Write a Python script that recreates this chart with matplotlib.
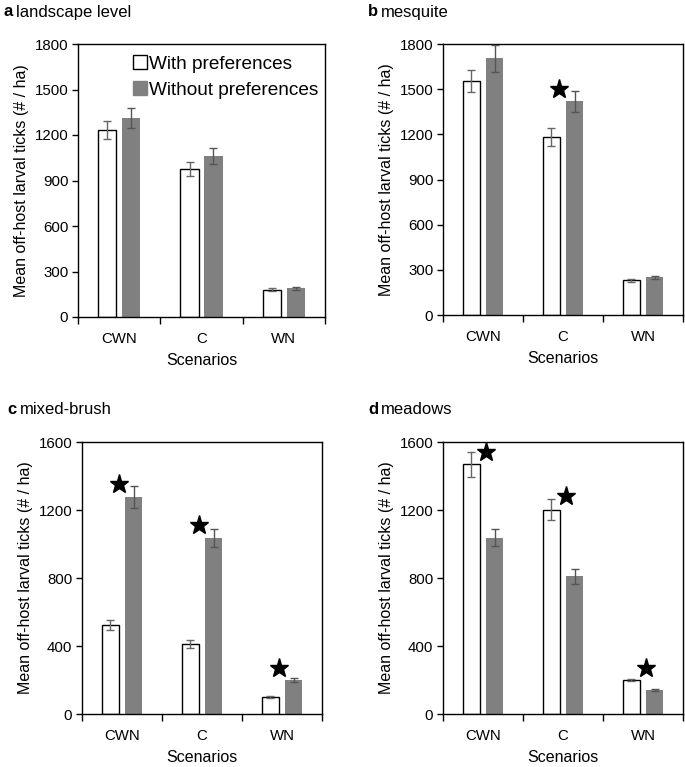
import numpy as np
import matplotlib
matplotlib.use("Agg")
import matplotlib.pyplot as plt
from matplotlib.lines import Line2D

plt.rcParams['font.family'] = ['Liberation Sans', 'DejaVu Sans']

scenarios = ["CWN", "C", "WN"]

# a landscape level
a_with = [1235, 975, 180]
a_with_err = [60, 48, 10]
a_without = [1310, 1060, 190]
a_without_err = [65, 52, 10]
a_stars = []

# b mesquite
b_with = [1555, 1180, 230]
b_with_err = [75, 60, 12]
b_without = [1705, 1420, 250]
b_without_err = [88, 70, 12]
b_stars = [(1, 1500)]

# c mixed-brush
c_with = [524, 410, 98]
c_with_err = [27, 24, 5]
c_without = [1276, 1035, 200]
c_without_err = [64, 54, 10]
c_stars = [(0, 1355), (1, 1109), (2, 269)]

# d meadows
d_with = [1470, 1201, 200]
d_with_err = [74, 62, 8]
d_without = [1038, 809, 143]
d_without_err = [52, 43, 6]
d_stars = [(0, 1539), (1, 1284), (2, 269)]

panels = [
    ("a", "landscape level", a_with, a_with_err, a_without, a_without_err, a_stars,
     1800, 300, [78, 44, 325, 317], -3),
    ("b", "mesquite", b_with, b_with_err, b_without, b_without_err, b_stars,
     1800, 300, [443, 44, 683, 315], -4),
    ("c", "mixed-brush", c_with, c_with_err, c_without, c_without_err, c_stars,
     1600, 400, [82, 442, 322, 714], -3),
    ("d", "meadows", d_with, d_with_err, d_without, d_without_err, d_stars,
     1600, 400, [443, 442, 683, 714], 3),
]

W, H = 685, 767
fig = plt.figure(figsize=(W / 100, H / 100), dpi=100)

bw = 0.223
off = 0.144
x = np.arange(len(scenarios))

for letter, name, yw, ew, yo, eo, stars, ymax, step, box, star_dx in panels:
    l, t, r, b = box
    ax = fig.add_axes([l / W, 1 - b / H, (r - l) / W, (b - t) / H])
    ax.bar(x - off, yw, bw, color="white", edgecolor="black", linewidth=1, zorder=2)
    ax.bar(x + off, yo, bw, color="#808080", edgecolor="none", zorder=2)
    ax.errorbar(x - off, yw, yerr=ew, fmt="none", ecolor="#666666", elinewidth=1,
                capsize=3, capthick=1, zorder=3)
    ax.errorbar(x + off, yo, yerr=eo, fmt="none", ecolor="#555555", elinewidth=1,
                capsize=3, capthick=1, zorder=3)
    for i, yv in stars:
        ax.plot(i + star_dx / 83.0, yv, marker="*", color="black", markersize=14,
                linestyle="none", zorder=4)
    ax.set_xlim(-0.5, 2.5)
    ax.set_ylim(0, ymax)
    ax.set_yticks(np.arange(0, ymax + 1, step))
    ax.set_xticks([-0.5, 0.5, 1.5, 2.5])
    ax.set_xticklabels([])
    ax.set_xticks(x, minor=True)
    ax.set_xticklabels(scenarios, minor=True)
    ax.tick_params(axis="x", which="major", direction="out", length=5, width=1)
    ax.tick_params(axis="x", which="minor", length=0, pad=11, labelsize=10.8)
    ax.tick_params(axis="y", direction="out", length=4, width=1, labelsize=10.8, pad=3)
    for s in ax.spines.values():
        s.set_linewidth(1)
    ax.set_xlabel("Scenarios", fontsize=11.5, labelpad=5)
    ax.set_ylabel("Mean off-host larval ticks (# / ha)", fontsize=11.5, labelpad=4)
    fig.text((l - 75) / W, 1 - (t - 32) / H, letter, fontsize=12, fontweight="bold",
             ha="left", va="center")
    fig.text((l - 62) / W, 1 - (t - 32) / H, name, fontsize=12, ha="left", va="center")
    if letter == "a":
        handles = [
            Line2D([], [], marker="s", color="none", markerfacecolor="white",
                   markeredgecolor="black", markersize=10, linestyle="none"),
            Line2D([], [], marker="s", color="none", markerfacecolor="#808080",
                   markeredgecolor="#808080", markersize=10, linestyle="none"),
        ]
        ax.legend(handles, ["With preferences", "Without preferences"],
                  loc="upper right", frameon=False, fontsize=13.7, handlelength=0.6,
                  handletextpad=0.2, labelspacing=0.45, borderaxespad=0.2,
                  bbox_to_anchor=(1.02, 1.0))

fig.savefig("out.png", dpi=100)
